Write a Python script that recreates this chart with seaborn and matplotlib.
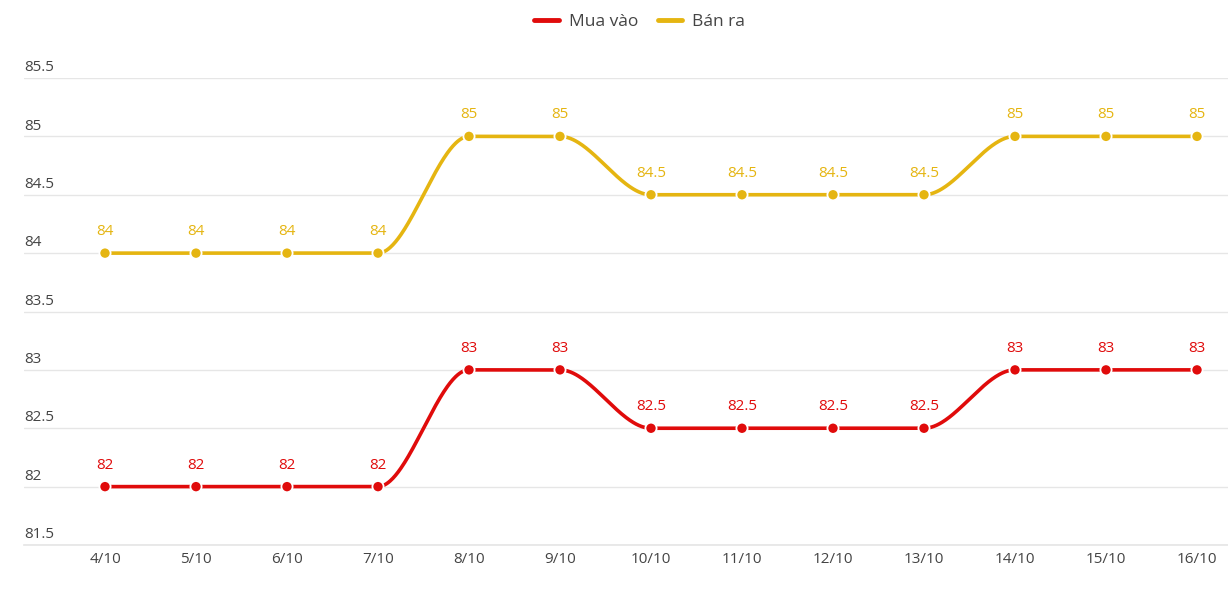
import numpy as np
import pandas as pd
import matplotlib
matplotlib.use("Agg")
import matplotlib.pyplot as plt
import matplotlib.transforms as mtransforms
from matplotlib.lines import Line2D
import seaborn as sns

categories = ["4/10", "5/10", "6/10", "7/10", "8/10", "9/10", "10/10",
              "11/10", "12/10", "13/10", "14/10", "15/10", "16/10"]
mua_vao = [82, 82, 82, 82, 83, 83, 82.5, 82.5, 82.5, 82.5, 83, 83, 83]
ban_ra = [84, 84, 84, 84, 85, 85, 84.5, 84.5, 84.5, 84.5, 85, 85, 85]
y_ticks = [81.5, 82, 82.5, 83, 83.5, 84, 84.5, 85, 85.5]

series_names = ["Mua vào", "Bán ra"]
colors = {"Mua vào": "#E00B0B", "Bán ra": "#E5B511"}

sns.set_theme(style="white")
plt.rcParams["font.family"] = ["Open Sans", "DejaVu Sans"]


def pchip(x, y, xs):
    x = np.asarray(x, float)
    y = np.asarray(y, float)
    h = np.diff(x)
    d = np.diff(y) / h
    n = len(x)
    m = np.zeros(n)
    for k in range(1, n - 1):
        if d[k - 1] * d[k] > 0:
            w1 = 2 * h[k] + h[k - 1]
            w2 = h[k] + 2 * h[k - 1]
            m[k] = (w1 + w2) / (w1 / d[k - 1] + w2 / d[k])
    idx = np.clip(np.searchsorted(x, xs) - 1, 0, n - 2)
    t = (xs - x[idx]) / h[idx]
    h00 = 2 * t**3 - 3 * t**2 + 1
    h10 = t**3 - 2 * t**2 + t
    h01 = -2 * t**3 + 3 * t**2
    h11 = t**3 - t**2
    return (h00 * y[idx] + h10 * h[idx] * m[idx]
            + h01 * y[idx + 1] + h11 * h[idx] * m[idx + 1])


df = pd.DataFrame({
    "x": list(range(len(categories))) * 2,
    "cat": categories * 2,
    "value": mua_vao + ban_ra,
    "series": ["Mua vào"] * len(categories) + ["Bán ra"] * len(categories),
})

fig = plt.figure(figsize=(12.28, 6.10), dpi=100)
ax = fig.add_axes([24 / 1228, 65 / 610, 1204 / 1228, 467 / 610])

rows = []
xs = np.linspace(0, len(categories) - 1, 1200)
for name, vals in [("Mua vào", mua_vao), ("Bán ra", ban_ra)]:
    ys = pchip(np.arange(len(vals)), vals, xs)
    rows.append(pd.DataFrame({"x": xs, "value": ys, "series": name}))
smooth = pd.concat(rows)

sns.lineplot(data=smooth, x="x", y="value", hue="series", palette=colors,
             hue_order=series_names, linewidth=2.6, ax=ax, legend=False,
             sort=False, estimator=None, zorder=3)
sns.scatterplot(data=df, x="x", y="value", hue="series", palette=colors,
                hue_order=series_names, s=65, edgecolor="white",
                linewidth=1.3, ax=ax, legend=False, zorder=4)

for _, r in df.iterrows():
    v = r["value"]
    ax.annotate(f"{v:g}", (r["x"], v), xytext=(0, 10), textcoords="offset points",
                ha="center", va="bottom", fontsize=11,
                color=colors[r["series"]], zorder=5)

ax.set_xlim(-(105 - 24) / 91, 12 + (1228 - 1197) / 91)
ax.set_ylim(81.5, 85.5)
ax.set_yticks(y_ticks)
ax.set_yticklabels([])
ax.tick_params(axis="y", length=0)
ax.grid(axis="y", color="#E6E6E6", linewidth=1)
ax.grid(axis="x", visible=False)
for s in ["top", "right", "left"]:
    ax.spines[s].set_visible(False)
ax.spines["bottom"].set_color("#E6E6E6")
ax.set_xticks(range(len(categories)))
ax.set_xticklabels(categories, fontsize=11, color="#444444")
ax.tick_params(axis="x", length=0, pad=5)
ax.set_xlabel("")
ax.set_ylabel("")

trans = mtransforms.blended_transform_factory(ax.transAxes, ax.transData)
for t in y_ticks:
    ax.annotate(f"{t:g}", (0, t), xycoords=trans, xytext=(0, 2),
                textcoords="offset points", ha="left", va="bottom",
                fontsize=11, color="#444444")

handles = [Line2D([0], [0], color=colors[n], linewidth=3.5) for n in series_names]
fig.legend(handles, series_names, loc="center", bbox_to_anchor=(0.521, 1 - 22 / 610),
           ncol=2, frameon=False, fontsize=12.5, handlelength=1.4,
           columnspacing=1.1, handletextpad=0.6, labelcolor="#444444")

fig.savefig("out.png", dpi=100)
